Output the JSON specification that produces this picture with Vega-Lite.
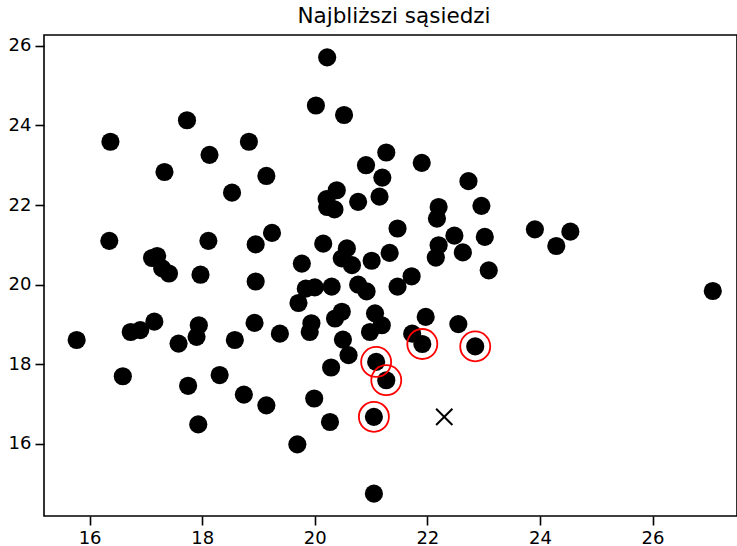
{
  "$schema": "https://vega.github.io/schema/vega-lite/v6.json",
  "width": 693,
  "height": 481,
  "autosize": {"type": "none"},
  "padding": {"left": 44, "top": 35, "right": 0, "bottom": 30},
  "background": "white",
  "title": {
    "text": "Najbliższi sąsiedzi",
    "font": "DejaVu Sans",
    "fontSize": 21.5,
    "fontWeight": "normal",
    "color": "black",
    "anchor": "middle",
    "baseline": "alphabetic",
    "offset": -9.5,
    "dx": 3.5
  },
  "config": {
    "view": {"stroke": "black", "strokeWidth": 1.6},
    "axis": {
      "grid": false,
      "domain": false,
      "labelFont": "DejaVu Sans",
      "labelFontSize": 18,
      "labelColor": "black",
      "tickColor": "black",
      "tickWidth": 1.6,
      "tickSize": 9,
      "labelPadding": 4,
      "title": null
    }
  },
  "datasets": {
    "points": [
      {"x": 15.77, "y": 18.61, "near": false},
      {"x": 16.37, "y": 23.59, "near": false},
      {"x": 16.35, "y": 21.10, "near": false},
      {"x": 16.59, "y": 17.70, "near": false},
      {"x": 16.73, "y": 18.81, "near": false},
      {"x": 16.90, "y": 18.86, "near": false},
      {"x": 17.11, "y": 20.67, "near": false},
      {"x": 17.20, "y": 20.72, "near": false},
      {"x": 17.15, "y": 19.07, "near": false},
      {"x": 17.29, "y": 20.41, "near": false},
      {"x": 17.41, "y": 20.28, "near": false},
      {"x": 17.33, "y": 22.83, "near": false},
      {"x": 17.58, "y": 18.52, "near": false},
      {"x": 17.73, "y": 24.13, "near": false},
      {"x": 17.75, "y": 17.46, "near": false},
      {"x": 17.90, "y": 18.69, "near": false},
      {"x": 17.94, "y": 18.98, "near": false},
      {"x": 17.93, "y": 16.49, "near": false},
      {"x": 17.97, "y": 20.25, "near": false},
      {"x": 18.11, "y": 21.10, "near": false},
      {"x": 18.13, "y": 23.26, "near": false},
      {"x": 18.31, "y": 17.73, "near": false},
      {"x": 18.53, "y": 22.31, "near": false},
      {"x": 18.58, "y": 18.61, "near": false},
      {"x": 18.74, "y": 17.24, "near": false},
      {"x": 18.83, "y": 23.59, "near": false},
      {"x": 18.93, "y": 19.04, "near": false},
      {"x": 18.95, "y": 21.01, "near": false},
      {"x": 18.95, "y": 20.08, "near": false},
      {"x": 19.14, "y": 22.73, "near": false},
      {"x": 19.14, "y": 16.97, "near": false},
      {"x": 19.24, "y": 21.30, "near": false},
      {"x": 19.38, "y": 18.77, "near": false},
      {"x": 19.69, "y": 15.99, "near": false},
      {"x": 19.71, "y": 19.54, "near": false},
      {"x": 19.77, "y": 20.53, "near": false},
      {"x": 19.84, "y": 19.90, "near": false},
      {"x": 19.91, "y": 18.81, "near": false},
      {"x": 19.94, "y": 19.03, "near": false},
      {"x": 19.99, "y": 17.14, "near": false},
      {"x": 20.00, "y": 19.93, "near": false},
      {"x": 20.02, "y": 24.50, "near": false},
      {"x": 20.15, "y": 21.03, "near": false},
      {"x": 20.21, "y": 22.15, "near": false},
      {"x": 20.22, "y": 21.95, "near": false},
      {"x": 20.22, "y": 25.71, "near": false},
      {"x": 20.27, "y": 16.55, "near": false},
      {"x": 20.29, "y": 17.92, "near": false},
      {"x": 20.30, "y": 19.95, "near": false},
      {"x": 20.35, "y": 21.89, "near": false},
      {"x": 20.36, "y": 19.15, "near": false},
      {"x": 20.39, "y": 22.37, "near": false},
      {"x": 20.48, "y": 19.32, "near": false},
      {"x": 20.48, "y": 20.66, "near": false},
      {"x": 20.50, "y": 18.62, "near": false},
      {"x": 20.52, "y": 24.26, "near": false},
      {"x": 20.57, "y": 20.91, "near": false},
      {"x": 20.60, "y": 18.23, "near": false},
      {"x": 20.66, "y": 20.49, "near": false},
      {"x": 20.77, "y": 22.08, "near": false},
      {"x": 20.77, "y": 20.00, "near": false},
      {"x": 20.91, "y": 23.00, "near": false},
      {"x": 20.92, "y": 19.83, "near": false},
      {"x": 20.98, "y": 18.81, "near": false},
      {"x": 21.01, "y": 20.60, "near": false},
      {"x": 21.05, "y": 16.68, "near": true},
      {"x": 21.05, "y": 14.75, "near": false},
      {"x": 21.07, "y": 19.28, "near": false},
      {"x": 21.09, "y": 18.06, "near": true},
      {"x": 21.15, "y": 22.21, "near": false},
      {"x": 21.19, "y": 18.98, "near": false},
      {"x": 21.20, "y": 22.69, "near": false},
      {"x": 21.27, "y": 17.60, "near": true},
      {"x": 21.27, "y": 23.32, "near": false},
      {"x": 21.33, "y": 20.80, "near": false},
      {"x": 21.47, "y": 21.41, "near": false},
      {"x": 21.47, "y": 19.95, "near": false},
      {"x": 21.72, "y": 20.21, "near": false},
      {"x": 21.73, "y": 18.77, "near": false},
      {"x": 21.90, "y": 23.06, "near": false},
      {"x": 21.91, "y": 18.51, "near": true},
      {"x": 21.97, "y": 19.19, "near": false},
      {"x": 22.15, "y": 20.68, "near": false},
      {"x": 22.17, "y": 21.66, "near": false},
      {"x": 22.20, "y": 21.95, "near": false},
      {"x": 22.20, "y": 20.99, "near": false},
      {"x": 22.48, "y": 21.23, "near": false},
      {"x": 22.55, "y": 19.01, "near": false},
      {"x": 22.63, "y": 20.81, "near": false},
      {"x": 22.73, "y": 22.60, "near": false},
      {"x": 22.85, "y": 18.45, "near": true},
      {"x": 22.96, "y": 21.98, "near": false},
      {"x": 23.02, "y": 21.20, "near": false},
      {"x": 23.09, "y": 20.36, "near": false},
      {"x": 23.91, "y": 21.39, "near": false},
      {"x": 24.29, "y": 20.97, "near": false},
      {"x": 24.54, "y": 21.33, "near": false},
      {"x": 27.07, "y": 19.84, "near": false}
    ],
    "query": [
      {"x": 22.30, "y": 16.68}
    ]
  },
  "encoding": {
    "x": {
      "field": "x",
      "type": "quantitative",
      "scale": {"domain": [15.19, 27.5], "nice": false, "zero": false},
      "axis": {"values": [16, 18, 20, 22, 24, 26], "format": "d"}
    },
    "y": {
      "field": "y",
      "type": "quantitative",
      "scale": {"domain": [14.19, 26.27], "nice": false, "zero": false},
      "axis": {"values": [16, 18, 20, 22, 24, 26], "format": "d"}
    }
  },
  "layer": [
    {
      "data": {"name": "points"},
      "mark": {"type": "point", "shape": "circle", "filled": true, "color": "black", "opacity": 1, "size": 330}
    },
    {
      "data": {"name": "points"},
      "transform": [{"filter": "datum.near"}],
      "mark": {"type": "point", "shape": "circle", "filled": false, "stroke": "#ff0000", "strokeWidth": 1.8, "opacity": 1, "size": 900}
    },
    {
      "data": {"name": "query"},
      "mark": {"type": "point", "shape": "M-1,-1L1,1M-1,1L1,-1", "filled": false, "stroke": "black", "strokeWidth": 2, "opacity": 1, "size": 266}
    }
  ]
}
